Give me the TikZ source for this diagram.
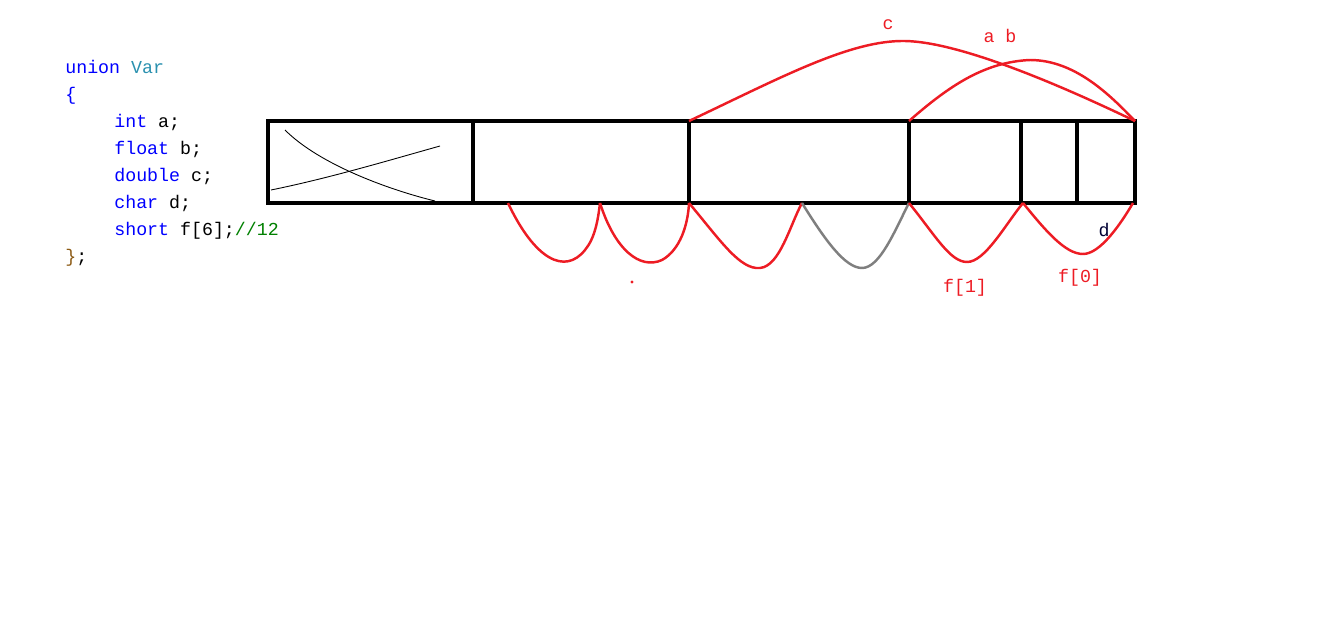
\documentclass[tikz,border=0pt]{standalone}
\usepackage{fontspec}
\setmonofont{Liberation Mono}
\definecolor{kw}{RGB}{0,0,255}
\definecolor{tname}{RGB}{43,145,175}
\definecolor{cmt}{RGB}{0,128,0}
\definecolor{brc}{RGB}{140,90,20}
\definecolor{pred}{RGB}{237,28,36}
\definecolor{pgray}{RGB}{127,127,127}
\tikzset{
  code/.style={anchor=base west, inner sep=0pt, font=\ttfamily\fontsize{10.4}{12}\selectfont},
  cell/.style={line width=2.1pt},
  arc/.style={pred, line width=1.4pt},
  lbl/.style={pred, inner sep=0pt, font=\ttfamily\fontsize{10.4}{12}\selectfont}
}
\begin{document}
\begin{tikzpicture}[x=0.02cm, y=-0.02cm]
				\useasboundingbox (0,0) rectangle (1336,616);

				% the union, as written in code
				\node[code] (l1) at (65, 73) {\textcolor{kw}{union} \textcolor{tname}{Var}};
				\node[code] (l2) at (65, 100) {\textcolor{kw}{\{}};
				\node[code] (l3) at (114, 127) {\textcolor{kw}{int} a;};
				\node[code] (l4) at (114, 154) {\textcolor{kw}{float} b;};
				\node[code] (l5) at (114, 181) {\textcolor{kw}{double} c;};
				\node[code] (l6) at (114, 208) {\textcolor{kw}{char} d;};
				\node[code] (l7) at (114, 235) {\textcolor{kw}{short} f[6];\textcolor{cmt}{//12}};
				\node[code] (l8) at (65, 262) {\textcolor{brc}{\}};};

				% memory cells
				\coordinate (s0) at (268, 121);
				\coordinate (e0) at (1135, 203);
				\draw[cell] (s0) rectangle (e0);
				\foreach \x [count=\i] in {473, 689, 909, 1021, 1077} {
					\coordinate (t\i) at (\x, 121);
					\coordinate (b\i) at (\x, 203);
					\draw[cell] (t\i) -- (b\i);
				}
				\coordinate (t6) at (1135, 121);

				% crossed out part
				\coordinate (x1) at (285, 130);
				\coordinate (x2) at (435, 201);
				\coordinate (x3) at (271, 190);
				\coordinate (x4) at (440, 146);
				\draw[line width=0.5pt] (x1) .. controls (320, 165) and (390, 190) .. (x2);
				\draw[line width=0.5pt] (x3) .. controls (330, 178) and (390, 160) .. (x4);

				% c and a b above
				\draw[arc] (t2) .. controls (780, 78) and (850, 40) .. (905, 41)
					.. controls (960, 42) and (1060, 85) .. (t6);
				\draw[arc] (t3) .. controls (950, 85) and (985, 62) .. (1030, 60)
					.. controls (1075, 60) and (1110, 95) .. (t6);
				\node[lbl] (lc) at (888, 25) {c};
				\node[lbl] (lab) at (1000, 36) {a b};

				% f[] elements below
				\coordinate (p1) at (508, 203);
				\coordinate (p2) at (600, 203);
				\coordinate (p4) at (802, 203);
				\coordinate (p6) at (1023, 203);
				\coordinate (p7) at (1133, 203);
				\draw[arc] (p1) .. controls (535, 260) and (565, 275) .. (585, 250)
					.. controls (595, 238) and (598, 220) .. (p2);
				\draw[arc] (p2) .. controls (615, 250) and (640, 270) .. (662, 260)
					.. controls (680, 250) and (688, 225) .. (b2);
				\draw[arc] (b2) .. controls (720, 240) and (740, 270) .. (760, 268)
					.. controls (780, 266) and (790, 225) .. (p4);
				\draw[pgray, line width=1.4pt] (p4) .. controls (825, 240) and (845, 268) .. (862, 268)
					.. controls (880, 268) and (895, 230) .. (b3);
				\draw[arc] (b3) .. controls (935, 235) and (950, 262) .. (967, 262)
					.. controls (985, 262) and (1005, 225) .. (p6);
				\draw[arc] (p6) .. controls (1045, 230) and (1065, 254) .. (1083, 254)
					.. controls (1100, 254) and (1120, 225) .. (p7);
				\fill[pred] (632, 282) circle (1.6);
				\node[lbl, text=black!80!blue] (ld) at (1104, 230) {d};
				\node[lbl] (lf1) at (965, 288) {f[1]};
				\node[lbl] (lf0) at (1080, 278) {f[0]};
			\end{tikzpicture}
\end{document}
